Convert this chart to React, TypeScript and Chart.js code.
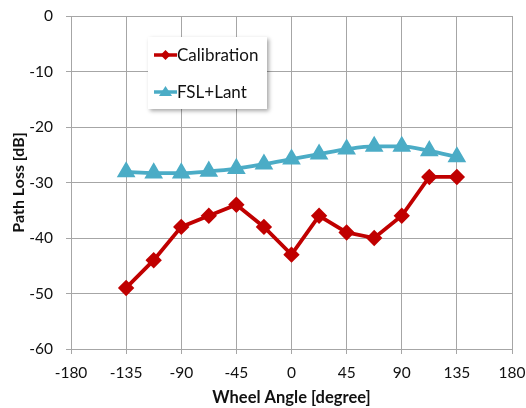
import React, { useEffect, useRef } from "react";
import { Chart, registerables } from "chart.js";
Chart.register(...registerables);

const angles = [-135, -112.5, -90, -67.5, -45, -22.5, 0, 22.5, 45, 67.5, 90, 112.5, 135];
const calibration = [-49, -44, -38, -36, -34, -38, -43, -36, -39, -40, -36, -29, -29];
const fslLant = [-28.1, -28.3, -28.3, -28.0, -27.5, -26.7, -25.8, -24.9, -24.0, -23.5, -23.5, -24.3, -25.4];
const seriesNames = ["Calibration", "FSL+Lant"];
const seriesColors = ["#C00000", "#4BACC6"];
const xTitle = "Wheel Angle [degree]";
const yTitle = "Path Loss [dB]";

const FONT = "Lato, 'Open Sans', sans-serif";

const legendPlugin = {
  id: "insideLegend",
  afterDraw(chart: any) {
    const ctx = chart.ctx;
    const x0 = 148, y0 = 37, w = 119, h = 72;
    ctx.save();
    ctx.shadowColor = "rgba(0,0,0,0.35)";
    ctx.shadowBlur = 4;
    ctx.shadowOffsetX = 2;
    ctx.shadowOffsetY = 2;
    ctx.fillStyle = "#fff";
    ctx.fillRect(x0, y0, w, h);
    ctx.restore();
    ctx.save();
    const rows = [55, 92];
    rows.forEach((y, i) => {
      const col = seriesColors[i];
      ctx.strokeStyle = col;
      ctx.lineWidth = 3.5;
      ctx.beginPath();
      ctx.moveTo(154, y);
      ctx.lineTo(177, y);
      ctx.stroke();
      ctx.fillStyle = col;
      ctx.beginPath();
      if (i === 0) {
        ctx.moveTo(165.5, y - 5);
        ctx.lineTo(170.5, y);
        ctx.lineTo(165.5, y + 5);
        ctx.lineTo(160.5, y);
      } else {
        ctx.moveTo(165.5, y - 6);
        ctx.lineTo(172, y + 4);
        ctx.lineTo(159, y + 4);
      }
      ctx.closePath();
      ctx.fill();
      ctx.fillStyle = "#111";
      ctx.font = `17px ${FONT}`;
      ctx.textBaseline = "middle";
      ctx.textAlign = "left";
      ctx.fillText(seriesNames[i], 177, y + 1);
    });
    ctx.restore();
  },
};

export default function App() {
  const ref = useRef<HTMLCanvasElement>(null);
  useEffect(() => {
    document.body.style.margin = "0";
    const chart = new Chart(ref.current!, {
      type: "line",
      data: {
        datasets: [
          {
            label: seriesNames[0],
            data: angles.map((a, i) => ({ x: a, y: calibration[i] })),
            borderColor: seriesColors[0],
            backgroundColor: seriesColors[0],
            borderWidth: 3.8,
            pointStyle: "rectRot",
            pointRadius: 5.5,
            tension: 0,
          },
          {
            label: seriesNames[1],
            data: angles.map((a, i) => ({ x: a, y: fslLant[i] })),
            borderColor: seriesColors[1],
            backgroundColor: seriesColors[1],
            borderWidth: 3.8,
            pointStyle: "triangle",
            pointRadius: 7,
            cubicInterpolationMode: "monotone",
          },
        ],
      },
      options: {
        animation: false,
        responsive: false,
        maintainAspectRatio: false,
        layout: { padding: { top: 16, right: 14, left: 0, bottom: 0 } },
        plugins: { legend: { display: false }, tooltip: { enabled: false } },
        scales: {
          x: {
            type: "linear",
            min: -180,
            max: 180,
            afterFit: (s: any) => { s.height = 59; s.paddingLeft = 0; s.paddingRight = 0; },
            ticks: { stepSize: 45, color: "#111", font: { family: FONT, size: 15.5 }, padding: 10, maxRotation: 0 },
            grid: { color: "#a6a6a6", lineWidth: 1, tickLength: 5 },
            border: { color: "#a6a6a6" },
            title: { display: true, text: xTitle, color: "#111", font: { family: FONT, size: 16.5, weight: "bold" }, padding: { top: 2, bottom: 0 } },
          },
          y: {
            min: -60,
            max: 0,
            afterFit: (s: any) => { s.width = 71; s.paddingTop = 0; s.paddingBottom = 0; },
            ticks: { stepSize: 10, color: "#111", font: { family: FONT, size: 15.5 }, padding: 13 },
            grid: { color: "#a6a6a6", lineWidth: 1, tickLength: 5 },
            border: { color: "#a6a6a6" },
            title: { display: true, text: yTitle, color: "#111", font: { family: FONT, size: 16, weight: "bold" }, padding: { top: 9, bottom: 0 } },
          },
        },
      },
      plugins: [legendPlugin],
    } as any);
    return () => chart.destroy();
  }, []);
  return (
    <div style={{ width: 526, height: 408 }}>
      <canvas ref={ref} width={526} height={408} style={{ display: "block" }} />
    </div>
  );
}
